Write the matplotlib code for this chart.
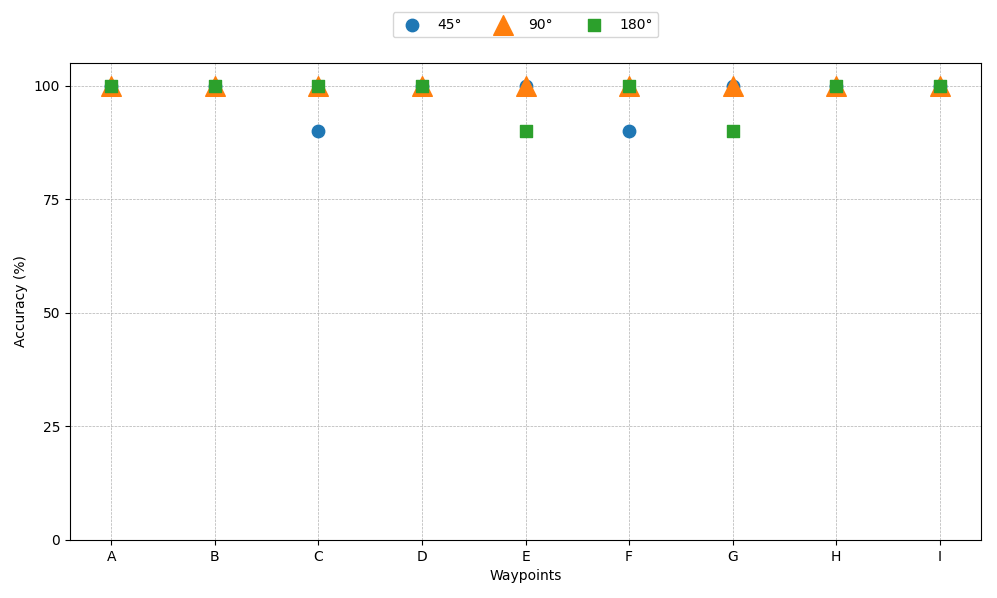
import matplotlib.pyplot as plt
import numpy as np

waypoints = ['A', 'B', 'C', 'D', 'E', 'F', 'G', 'H', 'I']
acc_45 = [100, 100, 90, 100, 100, 90, 100, 100, 100]
acc_90 = [100, 100, 100, 100, 100, 100, 100, 100, 100]
acc_180 = [100, 100, 100, 100, 90, 100, 90, 100, 100]

fig, ax = plt.subplots(figsize=(9.97, 5.98), dpi=100)
fig.subplots_adjust(left=0.0702, right=0.984, top=0.8946, bottom=0.097)

x = np.arange(len(waypoints))
ax.scatter(x, acc_45, marker='o', s=80, color='#1f77b4', label='45°', zorder=3)
ax.scatter(x, acc_90, marker='^', s=200, color='#ff7f0e', label='90°', zorder=3)
ax.scatter(x, acc_180, marker='s', s=80, color='#2ca02c', label='180°', zorder=3)

ax.set_xticks(x)
ax.set_xticklabels(waypoints)
ax.set_xlim(-0.4, 8.4)
ax.set_ylim(0, 105)
ax.set_yticks([0, 25, 50, 75, 100])
ax.set_xlabel('Waypoints')
ax.set_ylabel('Accuracy (%)')
ax.grid(True, linestyle='--', linewidth=0.5, color='#b0b0b0')

ax.legend(loc='upper center', bbox_to_anchor=(0.5, 1.121), ncol=3)

plt.savefig('out.png')
